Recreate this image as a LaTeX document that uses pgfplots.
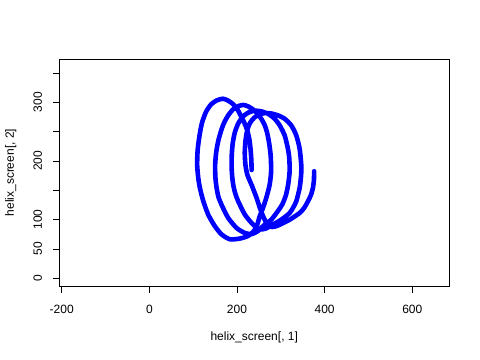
\documentclass[border=0pt]{standalone}
\usepackage{fontspec}
\setmainfont{Liberation Sans}
\usepackage{pgfplots}
\pgfplotsset{compat=1.18}
\definecolor{rblue}{HTML}{0000FF}
\begin{document}
\fontsize{12bp}{14bp}\selectfont
\begin{tikzpicture}
\path[use as bounding box] (-59.5bp,-74bp) rectangle (420.5bp,286bp);
\begin{axis}[
  at={(0,0)}, anchor=south west,
  scale only axis, width=389.5bp, height=226.7bp,
  xmin=-205, xmax=683.7, ymin=-13.1, ymax=373.3,
  axis line style={line width=0.8bp, black},
  every tick/.style={black, line width=0.8bp},
  major tick length=6.5bp, tick align=outside,
  xtick pos=bottom, ytick pos=left,
  xtick={-200,0,200,400,600}, xticklabels={-200,0,200,400,600},
  ytick={0,50,100,150,200,250,300,350}, yticklabels={0,50,100,,200,,300,},
  xticklabel style={anchor=base, font=\fontsize{12bp}{14bp}\selectfont},
  xticklabel shift=20.8bp,
  yticklabel style={rotate=90, anchor=base, font=\fontsize{12bp}{14bp}\selectfont},
  yticklabel shift=11.1bp,
  xlabel={helix\_screen[, 1]}, ylabel={helix\_screen[, 2]},
  xlabel style={at={(axis description cs:0.5,-0.2426)}, anchor=base, font=\fontsize{12bp}{14bp}\selectfont},
  ylabel style={at={(axis description cs:-0.1171,0.5)}, anchor=base, font=\fontsize{12bp}{14bp}\selectfont},
]
\addplot[rblue, line width=4.6bp, line cap=round, line join=round, smooth, tension=0.4, no marks] coordinates {
(233.4,184.6) (232.7,201.6) (231.1,218.7) (228.4,235.7) (223.8,251.1) (217.0,264.7) (209.0,276.6) (201.0,287.7) (190.7,297.1) (179.3,303.0)
(167.9,306.1) (154.2,303.4) (140.5,296.2) (129.1,283.4) (120.0,264.7) (114.3,242.5) (110.2,218.7) (109.1,193.1) (111.6,171.0) (115.4,153.9)
(123.0,131.8) (134.4,108.4) (149.7,88.6) (165.0,74.7) (183.9,66.5) (206.7,67.8) (225.0,72.1) (238.6,80.6) (246.6,92.5) (251.7,105.7)
(259.2,119.8) (266.7,136.9) (274.5,159.5) (277.9,182.9) (276.7,210.2) (272.9,232.3) (268.3,249.4) (263.1,261.3) (255.3,272.0) (246.6,280.9)
(236.4,288.0) (225.0,293.2) (214.7,295.4) (203.3,293.7) (190.7,287.7) (180.0,277.8) (171.3,266.4) (165.0,254.5) (157.7,235.7) (152.6,215.3)
(150.1,193.1) (150.8,171.0) (153.5,153.9) (157.7,138.6) (165.0,124.9) (180.0,102.8) (199.2,85.7) (218.1,77.2) (234.1,75.5) (247.8,80.6)
(263.1,91.4) (278.1,99.9) (293.4,114.7) (303.7,126.6) (311.7,142.0) (316.9,160.7) (320.1,182.9) (319.2,205.0) (316.2,220.9) (308.7,243.7)
(297.3,260.8) (285.9,272.0) (270.6,280.5) (255.3,284.6) (240.9,285.7) (227.2,282.9) (213.5,275.8) (202.8,263.8) (195.3,249.4) (190.3,230.6)
(188.0,210.2) (187.8,188.0) (189.1,172.7) (191.9,157.3) (196.4,143.7) (202.8,131.2) (218.1,108.4) (237.0,91.4) (252.3,83.5) (266.0,84.9)
(278.1,90.0) (300.9,99.9) (320.1,111.3) (328.8,121.5) (335.2,131.2) (342.9,153.9) (346.3,176.1) (346.6,193.1) (342.9,220.9) (335.2,243.7)
(323.7,260.8) (308.7,272.0) (293.4,277.8) (278.1,280.9) (264.9,281.7) (252.3,279.7) (239.8,274.1) (230.2,265.5) (223.4,252.8) (219.3,234.0)
(217.7,213.6) (219.3,193.1) (223.8,176.1) (233.4,159.0) (244.8,136.9) (252.3,119.8) (260.3,104.5) (268.3,93.4) (279.7,87.4) (293.4,90.0)
(307.1,94.8) (320.1,99.9) (342.9,111.3) (353.9,120.7) (361.8,131.2) (368.7,142.0) (373.2,153.9) (375.5,167.5) (376.0,182.4)
};
\end{axis}
\end{tikzpicture}
\end{document}
